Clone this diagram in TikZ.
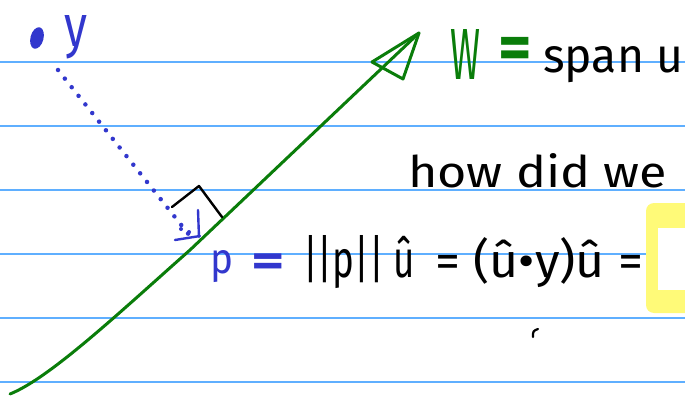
\documentclass[tikz,border=0pt]{standalone}
\usepackage{fontspec}
\setmainfont{Fira Sans}
\definecolor{rulecol}{RGB}{95,175,255}
\definecolor{pen}{RGB}{50,55,205}
\definecolor{gpen}{RGB}{10,125,10}
\definecolor{hl}{RGB}{255,250,120}
\begin{document}
\begin{tikzpicture}[x=1pt,y=-1pt,
  hand/.style={font=\fontsize{40}{42}\selectfont, inner sep=0pt, anchor=base west},
  eqsign/.style={font=\fontsize{38}{40}\selectfont\bfseries, inner sep=0pt, anchor=center},
  stroke/.style={line width=2.6pt, line cap=round, line join=round}]
\useasboundingbox (0,0) rectangle (685,396);
\clip (0,0) rectangle (685,396);
\fill[white] (0,0) rectangle (685,396);
\foreach \yy in {62,126,...,382} \draw[rulecol, line width=1.3pt] (0,\yy) -- (685,\yy);
% highlight
\fill[hl, rounded corners=8pt] (646,203) rectangle (700,313);
\fill[white] (658,228) rectangle (700,290);
% green line with arrow
\coordinate (g0) at (10,394);
\coordinate (g1) at (190,250);
\coordinate (tip) at (419,33);
\coordinate (ah1) at (372,62);
\coordinate (ah2) at (403,79);
\draw[gpen, stroke, line width=3pt] (g0) .. controls (50,378) and (120,312) .. (g1) -- (tip);
\draw[gpen, stroke, line width=3pt] (tip) -- (ah1) -- (ah2) -- cycle;
% point y
\fill[pen, rotate around={-15:(37,38)}] (37,38) ellipse (6.5pt and 11pt);
\node[hand, pen] (ylab) at (64,47) {\resizebox{23pt}{31pt}{y}};
\coordinate (d0) at (58,70);
\coordinate (d1) at (190,236);
\draw[pen, line width=4.5pt, line cap=round, dash pattern=on 0pt off 11pt] (d0) -- (d1);
% right angle mark
\coordinate (r0) at (172,207);
\coordinate (r1) at (199,186);
\coordinate (r2) at (222,217);
\draw[black, stroke, line width=2.4pt] (r0) -- (r1) -- (r2);
\coordinate (s0) at (198,210);
\coordinate (s1) at (199,237);
\coordinate (s2) at (175,240);
\coordinate (s3) at (200,236);
\draw[pen, stroke, line width=2.4pt] (s0) -- (s1) (s2) -- (s3);
\fill[pen] (181,229) circle (2pt) (189,232) circle (2pt);
% texts
\node[hand, gpen] (W) at (450,79) {\resizebox{30pt}{50pt}{W}};
\node[eqsign, gpen] (Weq) at (515,53) {\scalebox{1.7}{=}};
\node[hand] (span) at (543,72) {\resizebox{140pt}{26pt}{span u}};
\node[hand] (how) at (408,187) {\resizebox{259pt}{34pt}{how did we}};
\node[hand, pen] (p) at (210,273) {\resizebox{23pt}{23pt}{p}};
\node[eqsign, pen] (peq) at (268,265) {\scalebox{1.7}[1.2]{=}};
\node[hand] (norm) at (303,277) {\resizebox{112pt}{42pt}{||p|| û}};
\node[hand] (rest) at (435,277) {\resizebox{208pt}{40pt}{= (û•y)û =}};
\draw[black, stroke, line width=2.2pt] (533,337) .. controls (533,331) .. (538,329);
\end{tikzpicture}
\end{document}
